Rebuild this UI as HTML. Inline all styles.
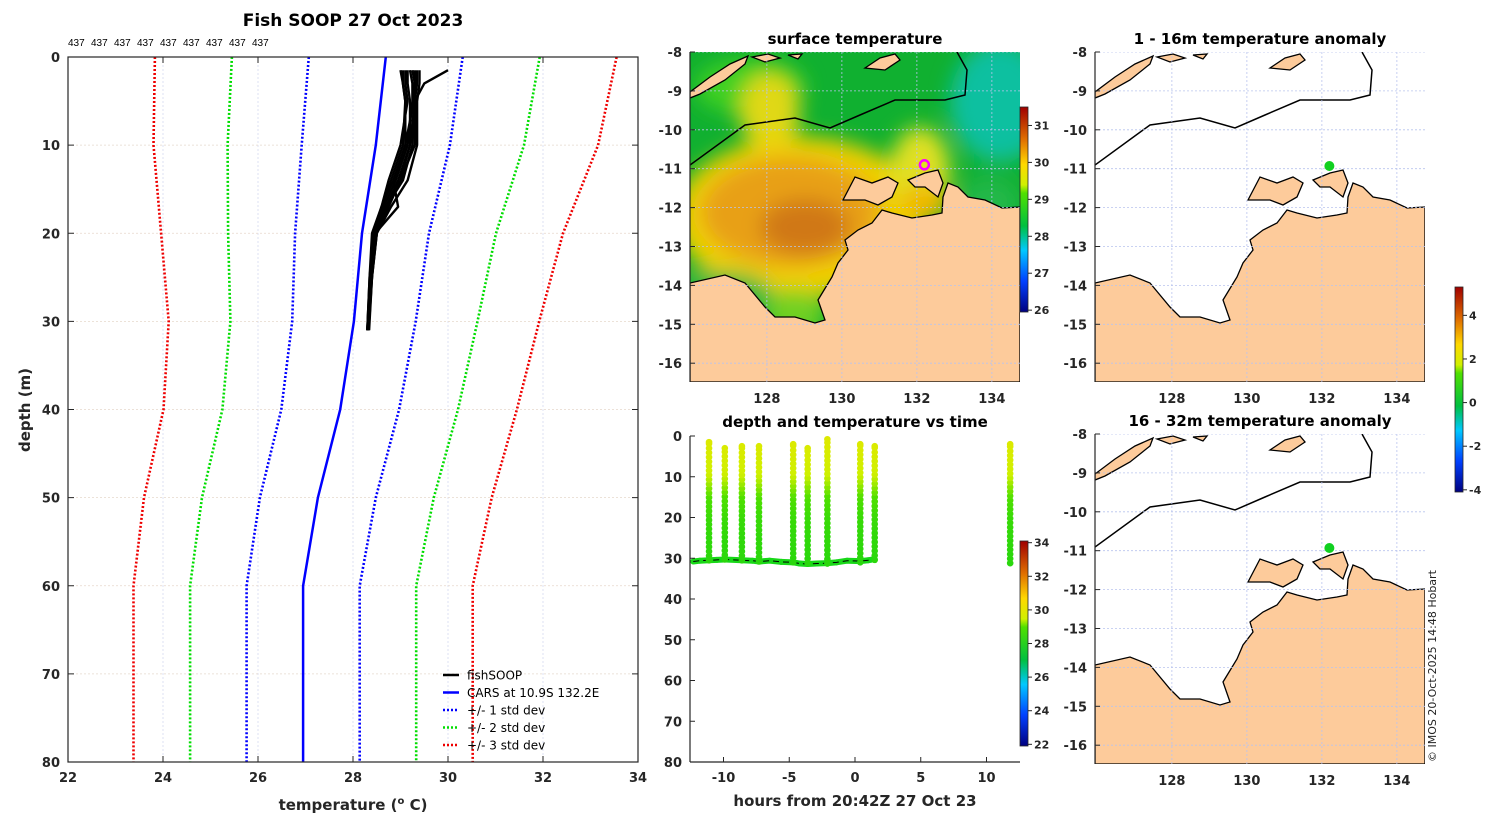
<!DOCTYPE html>
<html><head><meta charset="utf-8"><style>
html,body{margin:0;padding:0;background:#fff;}
svg{display:block;font-family:"DejaVu Sans","Liberation Sans",sans-serif;}
.tk{font-size:13px;font-weight:bold;fill:#262626;}
.ttl{font-size:15px;font-weight:bold;fill:#000;}
.lab{font-size:15px;font-weight:bold;fill:#262626;}
.cb{font-size:11px;font-weight:bold;fill:#262626;}
</style></head><body>
<svg id="fig" width="1500" height="820" viewBox="0 0 1500 820">
<defs>
<linearGradient id="cmap" x1="0" y1="1" x2="0" y2="0">
<stop offset="0" stop-color="#000080"/><stop offset="0.15" stop-color="#0040ff"/><stop offset="0.3" stop-color="#00c8ff"/><stop offset="0.42" stop-color="#00c040"/><stop offset="0.58" stop-color="#50e000"/><stop offset="0.62" stop-color="#d0f000"/><stop offset="0.72" stop-color="#ffd800"/><stop offset="0.84" stop-color="#e07000"/><stop offset="1" stop-color="#a00000"/>
</linearGradient>
<filter id="blur" x="-20%" y="-20%" width="140%" height="140%"><feGaussianBlur stdDeviation="10"/></filter>
<clipPath id="clipSst"><rect x="690" y="52" width="330" height="330"/></clipPath>
<clipPath id="clipA1"><rect x="1095" y="52" width="330" height="330"/></clipPath>
<clipPath id="clipA2"><rect x="1095" y="434" width="330" height="330"/></clipPath>
</defs>
<g id="profile"></g>
<g id="sst"></g>
<g id="anom1"></g>
<g id="anom2"></g>
<g id="timeplot"></g>
<text x="1436" y="762" transform="rotate(-90 1436 762)" style="font-size:11px;fill:#222">© IMOS 20-Oct-2025 14:48 Hobart</text>
</svg>
<script>
// ---------- data ----------
const carsDepths = [0,10,20,30,40,50,60,80];
const carsMean = [28.69,28.48,28.19,28.02,27.73,27.26,26.95,26.95];
const carsStd = [1.62,1.56,1.41,1.3,1.24,1.22,1.19,1.19];
const fishDepths = [1.5,3,5,10,14,17,20,25,31];
const fishProfiles = [
 [29.05,29.05,29.1,29.1,28.85,28.6,28.4,28.35,28.3],
 [29.15,29.15,29.2,29.2,28.95,28.7,28.45,28.38,28.32],
 [29.25,29.3,29.3,29.3,29.0,28.75,28.5,28.4,28.3],
 [29.4,29.4,29.35,29.35,29.15,28.8,28.5,28.4,28.33],
 [29.1,29.1,29.15,29.0,28.75,28.6,28.42,28.36,28.3],
 [29.2,29.25,29.25,29.15,28.9,28.65,28.45,28.37,28.31],
 [30.0,29.5,29.3,29.25,29.05,28.7,28.48,28.38,28.3],
 [29.3,29.3,29.28,29.1,28.85,28.95,28.47,28.4,28.34],
 [29.0,29.05,29.1,29.05,28.8,28.62,28.44,28.35,28.3],
 [29.35,29.35,29.3,29.2,29.0,28.72,28.5,28.38,28.32]
];
const xTicks = [22,24,26,28,30,32,34];
const yTicks = [0,10,20,30,40,50,60,70,80];
const countLabels = ['437','437','437','437','437','437','437','437','437'];
const castHours = [-11.1,-9.9,-8.6,-7.3,-4.7,-3.6,-2.1,0.4,1.5,11.8];
const castTopDepth = [1.5,3,2.5,2.5,2,3,0.8,2,2.5,2];
const castBottomDepth = [30.5,30.3,30.5,30.8,31,31.2,31.3,31,30.4,31.2];
const tempProfileDepth = [0,5,10,15,20,25,31];
const tempProfileValue = [29.8,29.6,29.4,28.95,28.6,28.45,28.35];
const bottomHours = [-12.3,-11.8,-11.1,-10.5,-9.9,-8.6,-7.8,-7.3,-6.5,-5.6,-4.7,-4.2,-3.6,-2.9,-2.1,-1.4,-0.6,0.4,1.0,1.5];
const bottomDepths = [30.8,30.6,30.5,30.4,30.3,30.5,30.6,30.8,30.6,30.9,31.0,31.3,31.4,31.3,31.2,31.0,30.6,30.7,30.5,30.2];
const timeXTicks = [-10,-5,0,5,10];
const timeYTicks = [0,10,20,30,40,50,60,70,80];
const lonTicks = [128,130,132,134];
const latTicks = [-8,-9,-10,-11,-12,-13,-14,-15,-16];
const sstTicks = [26,27,28,29,30,31];
const timeCbTicks = [22,24,26,28,30,32,34];
const anomTicks = [-4,-2,0,2,4];

const NS='http://www.w3.org/2000/svg';
function mk(tag,attrs,parent,txt){const e=document.createElementNS(NS,tag);for(const k in attrs)e.setAttribute(k,attrs[k]);if(txt!==undefined)e.textContent=txt;parent.appendChild(e);return e;}

// ---------- profile plot ----------
const P=document.getElementById('profile');
const pL=68,pR=638,pT=57,pB=762;
const px=t=>pL+(t-22)/(34-22)*(pR-pL);
const py=d=>pT+d/80*(pB-pT);
xTicks.forEach(t=>{if(t>22&&t<34){const l=mk('line',{x1:px(t),x2:px(t),y1:pT,y2:pB,stroke:'#d4daf0','stroke-dasharray':'2 2','stroke-width':0.8},P);}});
yTicks.forEach(d=>{if(d>0&&d<80){const l=mk('line',{x1:pL,x2:pR,y1:py(d),y2:py(d),stroke:'#e6d8cc','stroke-dasharray':'2 2','stroke-width':0.8},P);}});
function linePts(depths,temps){return depths.map((d,i)=>px(temps[i]).toFixed(1)+','+py(d).toFixed(1)).join(' ');}
const stdColors={1:'#0000ff',2:'#00dd00',3:'#ee0000'};
[1,2,3].forEach(k=>{[-1,1].forEach(s=>{
 const e=mk('polyline',{points:linePts(carsDepths,carsMean.map((m,i)=>m+s*k*carsStd[i])),fill:'none',stroke:stdColors[k],'stroke-width':2.6,'stroke-dasharray':'2 2'},P);
 
});});
const cars=mk('polyline',{points:linePts(carsDepths,carsMean),fill:'none',stroke:'#0000ff','stroke-width':2.5},P);

fishProfiles.forEach((pr,i)=>{const e=mk('polyline',{points:linePts(fishDepths,pr),fill:'none',stroke:'#000','stroke-width':2.4,'stroke-linejoin':'round'},P);
 });
mk('rect',{x:pL,y:pT,width:pR-pL,height:pB-pT,fill:'none',stroke:'#262626','stroke-width':1.2},P);
xTicks.forEach(t=>{mk('line',{x1:px(t),x2:px(t),y1:pB,y2:pB-6,stroke:'#262626'},P);mk('line',{x1:px(t),x2:px(t),y1:pT,y2:pT+6,stroke:'#262626'},P);
 const e=mk('text',{x:px(t),y:pB+20,'text-anchor':'middle',class:'tk'},P,String(t));});
yTicks.forEach(d=>{mk('line',{x1:pL,x2:pL+6,y1:py(d),y2:py(d),stroke:'#262626'},P);mk('line',{x1:pR,x2:pR-6,y1:py(d),y2:py(d),stroke:'#262626'},P);
 const e=mk('text',{x:pL-8,y:py(d)+5,'text-anchor':'end',class:'tk'},P,String(d));});
countLabels.forEach((c,i)=>{const e=mk('text',{x:68+i*23,y:46,style:'font-size:10px;fill:#000;font-family:Liberation Sans,sans-serif'},P,c);});
let e;
e=mk('text',{x:353,y:26,'text-anchor':'middle',style:'font-size:17px;font-weight:bold;fill:#000'},P,'Fish SOOP 27 Oct 2023');
e=mk('text',{x:353,y:810,'text-anchor':'middle',class:'lab'},P);
e.innerHTML='temperature (<tspan dy="-6" style="font-size:10px">o</tspan><tspan dy="6"> C)</tspan>';
e=mk('text',{x:30,y:410,'text-anchor':'middle',class:'lab',transform:'rotate(-90 30 410)'},P,'depth (m)');
const legItems=[['fishSOOP','#000',''],['CARS at 10.9S 132.2E','#0000ff',''],['+/- 1 std dev','#0000ff','2 2'],['+/- 2 std dev','#00dd00','2 2'],['+/- 3 std dev','#ee0000','2 2']];
legItems.forEach((it,i)=>{const y=675+i*17.5;const g=mk('g',{},P);
 mk('line',{x1:443,x2:459,y1:y,y2:y,stroke:it[1],'stroke-width':2.5,'stroke-dasharray':it[2]||'none'},g);
 mk('text',{x:467,y:y+4.5,style:'font-size:12px;fill:#000'},g,it[0]);});

// ---------- maps ----------
const landMain=[[0,231],[35,223],[55,231],[75,255],[85,265],[105,265],[125,271],[135,268],[128,248],[142,225],[148,211],[158,198],[155,188],[168,178],[182,171],[192,158],[202,161],[222,166],[242,163],[252,161],[253,145],[258,131],[268,135],[278,145],[295,148],[312,156],[330,155],[330,330],[0,330]];
const melville=[[153,148],[165,125],[182,131],[198,125],[208,131],[202,145],[188,153],[175,148]];
const cobourg=[[218,128],[235,121],[248,118],[253,131],[248,145],[235,135],[225,135]];
const timor=[[0,40],[20,25],[40,12],[58,4],[55,12],[35,28],[10,42],[0,46]];
const smallIs=[[[62,5],[78,2],[90,6],[75,10]],[[175,16],[190,6],[205,2],[210,8],[195,18]],[[98,3],[112,2],[108,7]]];
const eez=[[0,113],[55,73],[105,66],[140,76],[170,63],[205,48],[255,48],[275,43],[277,18],[267,0]];
function pstr(a,ox,oy){return a.map(p=>(p[0]+ox)+','+(p[1]+oy)).join(' ');}
function drawMap(G,ox,oy,clip,title,sstField){
 const g=mk('g',{'clip-path':'url(#'+clip+')'},G);
 mk('rect',{x:ox,y:oy,width:330,height:330,fill:'#fff'},g);
 if(sstField){
  const f=mk('g',{},g);
  mk('rect',{x:ox,y:oy,width:330,height:330,fill:'#10b030'},f);
  const b=mk('g',{filter:'url(#blur)'},f);
  mk('ellipse',{cx:ox+310,cy:oy+50,rx:50,ry:60,fill:'#10c0a0'},b);
  mk('ellipse',{cx:ox+60,cy:oy+35,rx:55,ry:28,fill:'#40d020'},b);
  mk('ellipse',{cx:ox+80,cy:oy+60,rx:30,ry:40,fill:'#e0d818'},b);
  mk('ellipse',{cx:ox+110,cy:oy+165,rx:125,ry:80,fill:'#f0d000'},b);
  mk('ellipse',{cx:ox+230,cy:oy+120,rx:30,ry:45,fill:'#e0e020'},b);
  mk('ellipse',{cx:ox+100,cy:oy+160,rx:90,ry:55,fill:'#e8a018'},b);
  mk('ellipse',{cx:ox+115,cy:oy+175,rx:45,ry:28,fill:'#d07818'},b);
  mk('ellipse',{cx:ox+30,cy:oy+245,rx:55,ry:25,fill:'#20b840'},b);
  mk('ellipse',{cx:ox+105,cy:oy+262,rx:30,ry:25,fill:'#70d020'},b);
  mk('ellipse',{cx:ox+235,cy:oy+150,rx:25,ry:18,fill:'#f0b800'},b);
  mk('ellipse',{cx:ox+300,cy:oy+150,rx:30,ry:25,fill:'#20b848'},b);
 }
 const lg=mk('g',{fill:'#fdcb9b',stroke:'#000','stroke-width':1.3},g);
 [landMain,melville,cobourg,timor].concat(smallIs).forEach(a=>mk('polygon',{points:pstr(a,ox,oy)},lg));
 const ez=mk('polyline',{points:pstr(eez,ox,oy),fill:'none',stroke:'#000','stroke-width':1.5},g);
 const lx=lon=>ox+(lon-125.95)*37.5, ly=lat=>oy+(-8-lat)*38.9;
 lonTicks.forEach(t=>{mk('line',{x1:lx(t),x2:lx(t),y1:oy,y2:oy+330,stroke:'#b8c4ee','stroke-dasharray':'2 2','stroke-width':0.8},g);});
 latTicks.forEach(t=>{mk('line',{x1:ox,x2:ox+330,y1:ly(t),y2:ly(t),stroke:'#b8c4ee','stroke-dasharray':'2 2','stroke-width':0.8},g);});
 mk('line',{x1:ox,x2:ox,y1:oy,y2:oy+330,stroke:'#262626','stroke-width':1.2},G);
 lonTicks.forEach(t=>{const e=mk('text',{x:lx(t),y:oy+351,'text-anchor':'middle',class:'tk'},G,String(t));});
 latTicks.forEach(t=>{mk('line',{x1:ox,x2:ox+5,y1:ly(t),y2:ly(t),stroke:'#262626'},G);
  const e=mk('text',{x:ox-8,y:ly(t)+5,'text-anchor':'end',class:'tk'},G,String(t));});
 const te=mk('text',{x:ox+165,y:oy-8,'text-anchor':'middle',class:'ttl'},G,title);
 return {lx,ly};
}
function colorbar(G,x,y0,y1,ticks,lo,hi){
 const r=mk('rect',{x:x,y:y0,width:8,height:y1-y0,fill:'url(#cmap)',stroke:'#262626','stroke-width':0.8},G);
 ticks.forEach(t=>{const y=y1-(t-lo)/(hi-lo)*(y1-y0);mk('line',{x1:x+8,x2:x+12,y1:y,y2:y,stroke:'#262626'},G);
  const e=mk('text',{x:x+14,y:y+4,class:'cb'},G,String(t));});
}
const S=document.getElementById('sst');
const sm=drawMap(S,690,52,'clipSst','surface temperature',true);
e=mk('circle',{cx:sm.lx(132.2),cy:sm.ly(-10.9),r:4.5,fill:'none',stroke:'#ff00ff','stroke-width':2.5},S);
colorbar(S,1020,107,312,sstTicks,25.95,31.5);
const A1=document.getElementById('anom1');
const a1=drawMap(A1,1095,52,'clipA1','1 - 16m temperature anomaly',false);
e=mk('circle',{cx:a1.lx(132.2),cy:a1.ly(-10.93),r:5,fill:'#10d020'},A1);
const A2=document.getElementById('anom2');
const a2=drawMap(A2,1095,434,'clipA2','16 - 32m temperature anomaly',false);
e=mk('circle',{cx:a2.lx(132.2),cy:a2.ly(-10.93),r:5,fill:'#10d020'},A2);
colorbar(A1,1455,287,492,anomTicks,-4.1,5.3);

// ---------- depth vs time ----------
const T=document.getElementById('timeplot');
const tL=690,tR=1020,tT=436,tB=762;
const tx=h=>855+h*13.15;
const ty=d=>tT+d/80*(tB-tT);
const stops=[[0,[0,0,128]],[0.15,[0,64,255]],[0.3,[0,200,255]],[0.42,[0,192,64]],[0.5,[20,210,20]],[0.58,[80,224,0]],[0.62,[208,240,0]],[0.72,[255,216,0]],[0.84,[224,112,0]],[1,[160,0,0]]];
function cmap(v){let t=Math.max(0,Math.min(1,(v-22)/12));for(let i=1;i<stops.length;i++){if(t<=stops[i][0]){const a=stops[i-1],b=stops[i],f=(t-a[0])/(b[0]-a[0]);return 'rgb('+a[1].map((c,k)=>Math.round(c+(b[1][k]-c)*f)).join(',')+')';}}return 'rgb(160,0,0)';}
function tempAt(d){for(let i=1;i<tempProfileDepth.length;i++){if(d<=tempProfileDepth[i]){const f=(d-tempProfileDepth[i-1])/(tempProfileDepth[i]-tempProfileDepth[i-1]);return tempProfileValue[i-1]+f*(tempProfileValue[i]-tempProfileValue[i-1]);}}return tempProfileValue[tempProfileValue.length-1];}
bottomHours.forEach((h,i)=>{if(i>0){const c=mk('line',{x1:tx(bottomHours[i-1]),y1:ty(bottomDepths[i-1]),x2:tx(h),y2:ty(bottomDepths[i]),stroke:'#18d818','stroke-width':6,'stroke-linecap':'round'},T);}});
const bl=mk('polyline',{points:bottomHours.map((h,i)=>tx(h)+','+ty(bottomDepths[i])).join(' '),fill:'none',stroke:'#000','stroke-width':1,'stroke-dasharray':'6 4'},T);

castHours.forEach((h,i)=>{const g=mk('g',{},T);
 for(let d=castBottomDepth[i];d>=castTopDepth[i];d-=1.1){const c=mk('circle',{cx:tx(h),cy:ty(d),r:3.3,fill:cmap(tempAt(d))},g);}
 mk('circle',{cx:tx(h),cy:ty(castTopDepth[i]),r:3.3,fill:cmap(tempAt(castTopDepth[i]))},g);
});
mk('line',{x1:tL,x2:tL,y1:tT,y2:tB,stroke:'#262626','stroke-width':1.2},T);
mk('line',{x1:tL,x2:tR,y1:tB,y2:tB,stroke:'#262626','stroke-width':1.2},T);
timeYTicks.forEach(d=>{mk('line',{x1:tL,x2:tL+5,y1:ty(d),y2:ty(d),stroke:'#262626'},T);
 const e=mk('text',{x:tL-8,y:ty(d)+5,'text-anchor':'end',class:'tk'},T,String(d));});
timeXTicks.forEach(h=>{mk('line',{x1:tx(h),x2:tx(h),y1:tB,y2:tB-5,stroke:'#262626'},T);
 const e=mk('text',{x:tx(h),y:tB+20,'text-anchor':'middle',class:'tk'},T,String(h));});
e=mk('text',{x:855,y:427,'text-anchor':'middle',class:'ttl'},T,'depth and temperature vs time');
e=mk('text',{x:855,y:806,'text-anchor':'middle',class:'lab'},T,'hours from 20:42Z 27 Oct 23');
colorbar(T,1020,541,746,timeCbTicks,21.9,34.1);
</script>
</body></html>
